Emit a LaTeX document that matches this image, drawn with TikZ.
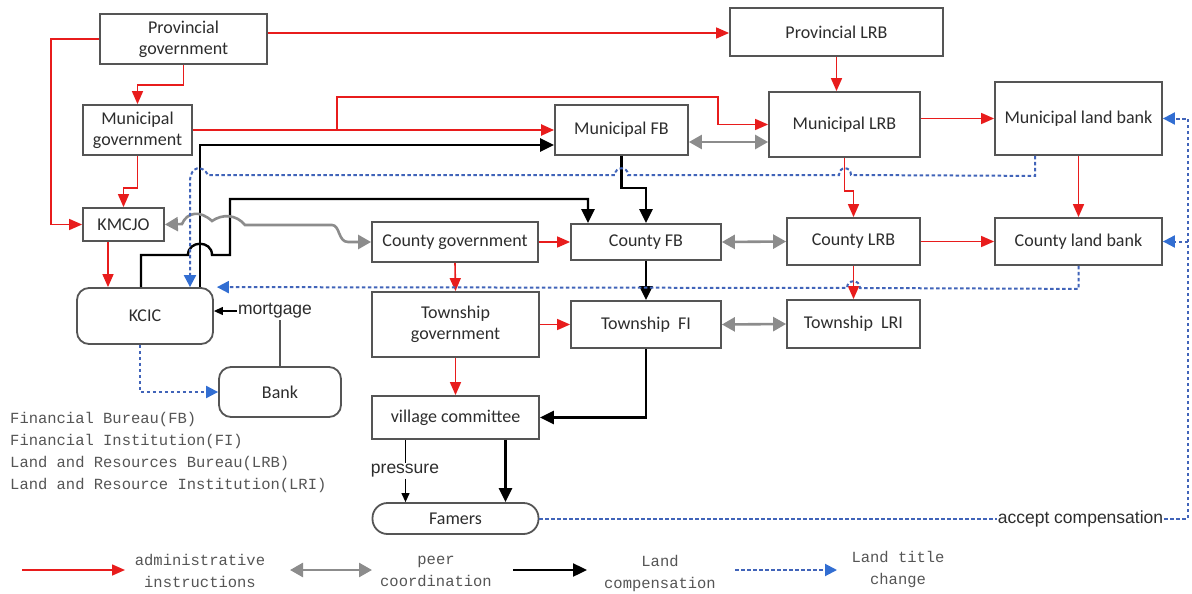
\documentclass[tikz,border=0pt]{standalone}
\usepackage{fontspec}
\setmainfont{Carlito}
\newfontfamily\sansA{Liberation Sans}
\newfontfamily\monoA{Liberation Mono}
\usetikzlibrary{arrows.meta,calc}
\definecolor{redA}{RGB}{232,28,28}
\definecolor{grayA}{RGB}{140,140,140}
\definecolor{blueA}{RGB}{65,100,185}
\definecolor{blueTip}{RGB}{50,110,210}
\definecolor{boxgray}{RGB}{85,85,85}
\definecolor{txtgray}{RGB}{45,45,45}
\definecolor{leggray}{RGB}{85,85,85}
\begin{document}
\begin{tikzpicture}[x=1pt,y=-1pt,
  box/.style={draw=boxgray, line width=1.8pt, fill=white, text=txtgray,
    font=\fontsize{18}{21}\selectfont, align=center, inner sep=0pt, rectangle},
  rbox/.style={box, rounded corners=12pt},
  adm/.style={draw=redA, line width=1.6pt, -{Triangle[length=13pt,width=11pt,color=redA]}},
  peer/.style={draw=grayA, line width=2.6pt,
    {Triangle[length=13pt,width=14pt,color=grayA]}-{Triangle[length=13pt,width=14pt,color=grayA]}},
  comp/.style={draw=black, line width=2.4pt, -{Triangle[length=14pt,width=13pt]}},
  titleline/.style={draw=blueA, line width=2pt, dash pattern=on 3.5pt off 2.5pt},
  title/.style={titleline, -{Triangle[length=12pt,width=12pt,color=blueTip]}},
  thinarrow/.style={draw=black, line width=1.2pt, -{Triangle[length=9pt,width=8pt]}},
  lbl/.style={font=\sansA\fontsize{17.5}{20}\selectfont, text=txtgray, inner sep=1pt},
  legtxt/.style={font=\monoA\fontsize{15.5}{22}\selectfont, text=leggray, align=center, inner sep=0pt}
]
\path[use as bounding box, fill=white] (0,0) rectangle (1192,594);

% nodes
\node[box, minimum width=167, minimum height=50] (pg) at (183.5,39) {Provincial\\government};
\node[box, minimum width=213, minimum height=48] (plrb) at (836.5,32) {Provincial LRB};
\node[box, minimum width=109, minimum height=50] (mg) at (137.5,130) {Municipal\\government};
\node[box, minimum width=133, minimum height=50] (mfb) at (621.5,130) {Municipal FB};
\node[box, minimum width=151, minimum height=65] (mlrb) at (844.5,124.5) {Municipal LRB};
\node[box, minimum width=167, minimum height=73] (mlb) at (1078.5,118.5) {Municipal land bank};
\node[box, minimum width=81, minimum height=33] (kmcjo) at (123.5,224.5) {KMCJO};
\node[box, minimum width=166, minimum height=40] (cg) at (455,242) {County government};
\node[box, minimum width=150, minimum height=36] (cfb) at (646,242) {County FB};
\node[box, minimum width=133, minimum height=47] (clrb) at (853.5,241.5) {County LRB};
\node[box, minimum width=167, minimum height=47] (clb) at (1078.5,241.5) {County land bank};
\node[rbox, minimum width=136, minimum height=56] (kcic) at (145,316) {KCIC};
\node[box, minimum width=167, minimum height=65] (tg) at (455.5,324.5) {Township\\government};
\node[box, minimum width=150, minimum height=47] (tfi) at (646,324.5) {Township\ \ FI};
\node[box, minimum width=133, minimum height=48] (tlri) at (853.5,324) {Township\ \ LRI};
\node[rbox, minimum width=122, minimum height=50] (bank) at (280,392) {Bank};
\node[box, minimum width=167, minimum height=43] (vc) at (455.5,417.5) {village committee};
\node[box, rounded corners=15pt, minimum width=166, minimum height=31] (fam) at (455.5,518.5) {Famers};

% red: administrative instructions
\draw[adm] (pg.west) -- ++(-48,0) |- (kmcjo.west);
\draw[adm] ([yshift=6pt]pg.east) -- ([yshift=-1pt]plrb.west);
\draw[adm] (pg.south) -- ++(0,20) -| (mg.north);
\draw[adm, line width=2.2pt] (mg.east) -- (mfb.west);
\coordinate (br) at (337,130);
\draw[adm] (br) -- ++(0,-33) -- ++(381,0) |- (mlrb.west);
\draw[adm] (mg.south) -- ++(0,32) -| (kmcjo.north);
\draw[adm] ([xshift=-15.5pt]kmcjo.south) -- ([xshift=-15.5pt]kmcjo.south |- kcic.north);
\draw[adm] (plrb.south) -- (plrb.south |- mlrb.north);
\draw[adm] ([yshift=6pt]mlrb.east) -- (mlb.west);
\draw[adm] (mlrb.south) -- ++(0,33) -| (clrb.north);
\draw[adm] (mlb.south) -- (clb.north);
\draw[adm] (clrb.east) -- (clb.west);
\draw[adm] (clrb.south) -- (tlri.north);
\draw[adm] (cg.east) -- (cfb.west);
\draw[adm] (cg.south) -- (tg.north);
\draw[adm] (tg.east) -- (tfi.west);
\draw[adm] (tg.south) -- (vc.north);

% black: land compensation
\draw[comp] ([xshift=55pt]kcic.north) |- ([yshift=-15pt]mfb.west);
\draw[comp] ([xshift=-4pt]kcic.north) -- (141,255) -- (188,255)
  .. controls (188,240) and (212,240) .. (212,255) -- (230,255) -- (230,199)
  -| ([xshift=-58pt]cfb.north);
\draw[comp] (mfb.south) -- ++(0,32) -| (cfb.north);
\draw[comp] (cfb.south) -- (tfi.north);
\draw[comp] (tfi.south) |- (vc.east);
\draw[comp] ([xshift=50pt]vc.south) -- ([xshift=50pt]vc.south |- fam.north);

% gray: peer coordination
\draw[peer] ([yshift=-12pt]mfb.east) -- ([yshift=-12pt]mfb.east -| mlrb.west);
\draw[peer] (cfb.east) -- (clrb.west);
\draw[peer] (tfi.east) -- (tlri.west);
\draw[peer] (kmcjo.east) -- (182,224)
  .. controls (187,212) and (200,210) .. (212,221)
  .. controls (222,214) and (236,214) .. (245,225) -- (332,225)
  .. controls (340,225) and (338,242) .. (348,242) -- (cg.west);

% blue: land title change
\draw[title] ([xshift=-43.5pt]mlb.south) -- ++(0,20) -- (851,175)
  .. controls (851,166) and (839,166) .. (839,175) -- (628,175)
  .. controls (628,166) and (615,166) .. (615,175) -- (208,175)
  .. controls (203,165) and (190,165) .. (190,182) -- ([xshift=45pt]kcic.north);
\draw[title] (clb.south) -- ++(0,23) -- (860,288)
  .. controls (860,279) and (847,279) .. (847,288) -- ([xshift=3pt]kcic.north east);
\draw[title] ([xshift=-5pt]kcic.south) |- (bank.west);
\node[lbl, fill=white] (acc) at (1080.5,518.5) {accept compensation};
\draw[titleline] (fam.east) -- (acc.west);
\coordinate (rc) at (1188,518.5);
\draw[title] (acc.east) -- (rc) |- (mlb.east);
\draw[title] (rc |- clb.east) -- (clb.east);

% mortgage and pressure
\node[lbl] (mort) at (275,311) {mortgage};
\draw[boxgray, line width=1.4pt] (bank.north) -- (bank.north |- mort.south);
\draw[thinarrow] (mort.west) -- (mort.west -| kcic.east);
\node[lbl] (pres) at (405,471) {pressure};
\draw[black, line width=1.2pt] ([xshift=-50pt]vc.south) -- ([xshift=-50pt]vc.south |- pres.north);
\draw[thinarrow] ([xshift=-50pt]vc.south |- pres.south) -- ([xshift=-50pt]vc.south |- fam.north);

% abbreviations
\node[legtxt, align=left, anchor=west] (abbr) at (10,452.5)
  {Financial Bureau(FB)\\Financial Institution(FI)\\Land and Resources Bureau(LRB)\\Land and Resource Institution(LRI)};

% legend
\coordinate (la1) at (22,570); \coordinate (la2) at (125,570);
\draw[adm] (la1) -- (la2);
\node[legtxt] (lt1) at (200,571) {administrative\\instructions};
\coordinate (lb1) at (290,570); \coordinate (lb2) at (372,570);
\draw[peer] (lb1) -- (lb2);
\node[legtxt] (lt2) at (436,571) {peer\\coordination};
\coordinate (lc1) at (513,570); \coordinate (lc2) at (587,570);
\draw[comp] (lc1) -- (lc2);
\node[legtxt] (lt3) at (660,573) {Land\\compensation};
\coordinate (ld1) at (735,570); \coordinate (ld2) at (837,570);
\draw[title] (ld1) -- (ld2);
\node[legtxt] (lt4) at (898,569) {Land title\\change};
\end{tikzpicture}
\end{document}
